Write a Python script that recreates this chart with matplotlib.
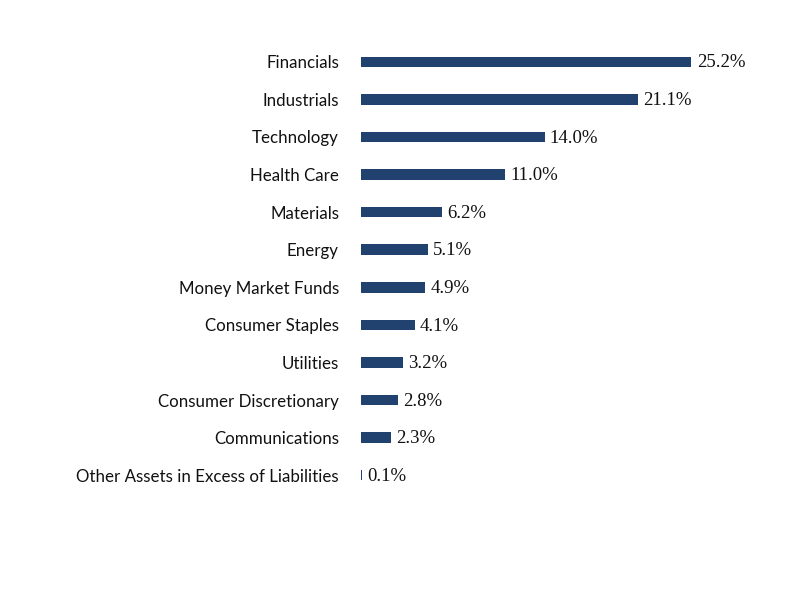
import matplotlib
matplotlib.use("Agg")
import matplotlib.pyplot as plt

sectors = [
    "Financials", "Industrials", "Technology", "Health Care", "Materials",
    "Energy", "Money Market Funds", "Consumer Staples", "Utilities",
    "Consumer Discretionary", "Communications",
    "Other Assets in Excess of Liabilities",
]
weights = [25.2, 21.1, 14.0, 11.0, 6.2, 5.1, 4.9, 4.1, 3.2, 2.8, 2.3, 0.1]

W, H = 792, 612
fig = plt.figure(figsize=(W / 72, H / 72), dpi=72)
ax = fig.add_axes([361 / W, 1 - 494 / H, 400 / W, 451 / H])

pos = list(range(len(sectors)))
ax.barh(pos, weights, height=0.28, color="#21416F")
for p, v in zip(pos, weights):
    ax.text(v + 0.4, p + 0.03, f"{v:.1f}%", va="center", ha="left",
            family="Liberation Serif", fontsize=18.7, color="#111111")

ax.set_xlim(0, 30.5)
ax.set_ylim(len(sectors) - 0.5, -0.5)
ax.set_yticks(pos)
ax.set_yticklabels(sectors, family="Lato", fontsize=16.9, color="#111111")
ax.tick_params(axis="y", length=0, pad=22)
ax.set_xticks([])
for s in ax.spines.values():
    s.set_visible(False)

fig.savefig("out.png", dpi=72)
